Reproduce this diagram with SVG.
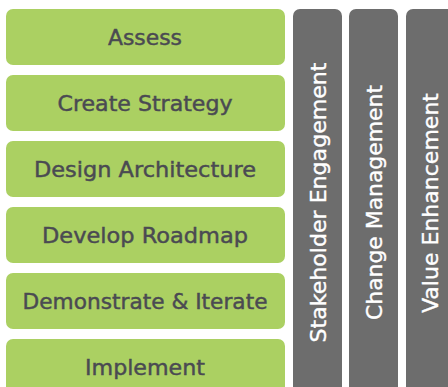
<svg xmlns="http://www.w3.org/2000/svg" width="448" height="387" viewBox="0 0 448 387">
<style>
.step{fill:#abd062}
.col{fill:#6d6d6d}
.st{font-family:"DejaVu Sans","Liberation Sans",sans-serif;font-size:21px;fill:#4a4a52;stroke:#4a4a52;stroke-width:0.45;text-anchor:middle}
.vt{font-family:"DejaVu Sans","Liberation Sans",sans-serif;font-size:21px;fill:#ffffff;stroke:#ffffff;stroke-width:0.35;text-anchor:middle}
</style>
<rect width="448" height="387" fill="#ffffff"/>
<g id="assess"><rect class="step" x="6" y="9" width="279" height="56" rx="7"/><text class="st" x="145" y="45" textLength="74" lengthAdjust="spacingAndGlyphs">Assess</text></g>
<g id="create-strategy"><rect class="step" x="6" y="75" width="279" height="56" rx="7"/><text class="st" x="145" y="111" textLength="175" lengthAdjust="spacingAndGlyphs">Create Strategy</text></g>
<g id="design-architecture"><rect class="step" x="6" y="141" width="279" height="56" rx="7"/><text class="st" x="145" y="177" textLength="222" lengthAdjust="spacingAndGlyphs">Design Architecture</text></g>
<g id="develop-roadmap"><rect class="step" x="6" y="207" width="279" height="56" rx="7"/><text class="st" x="145" y="243" textLength="206" lengthAdjust="spacingAndGlyphs">Develop Roadmap</text></g>
<g id="demonstrate-iterate"><rect class="step" x="6" y="273" width="279" height="56" rx="7"/><text class="st" x="145" y="309" textLength="245" lengthAdjust="spacingAndGlyphs">Demonstrate &amp; Iterate</text></g>
<g id="implement"><rect class="step" x="6" y="339" width="279" height="60" rx="7"/><text class="st" x="145" y="375" textLength="120" lengthAdjust="spacingAndGlyphs">Implement</text></g>
<g id="stakeholder-engagement"><rect class="col" x="293" y="9" width="49" height="390" rx="7"/><text class="vt" transform="translate(326,202.5) rotate(-90)" textLength="280" lengthAdjust="spacingAndGlyphs">Stakeholder Engagement</text></g>
<g id="change-management"><rect class="col" x="349" y="9" width="49" height="390" rx="7"/><text class="vt" transform="translate(382,202.5) rotate(-90)" textLength="235" lengthAdjust="spacingAndGlyphs">Change Management</text></g>
<g id="value-enhancement"><rect class="col" x="406" y="9" width="49" height="390" rx="7"/><text class="vt" transform="translate(438,203) rotate(-90)" textLength="220" lengthAdjust="spacingAndGlyphs">Value Enhancement</text></g>
<g id="connectors"></g>
</svg>
